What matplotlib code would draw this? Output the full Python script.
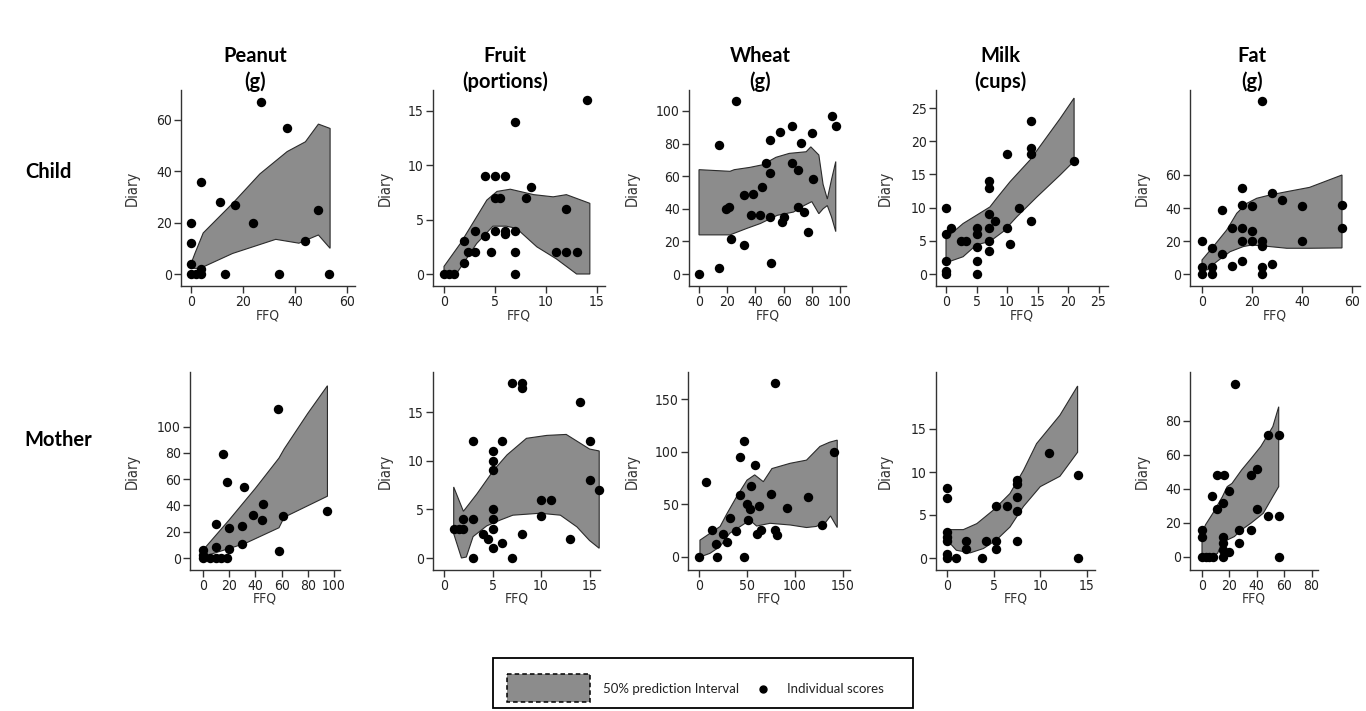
import matplotlib
matplotlib.use("Agg")
import matplotlib.pyplot as plt
from matplotlib import font_manager
from matplotlib.font_manager import FontProperties
from matplotlib.patches import Rectangle

W, H = 1366, 711

foods = ["Peanut", "Fruit", "Wheat", "Milk", "Fat"]
units = ["(g)", "(portions)", "(g)", "(cups)", "(g)"]
groups = ["Child", "Mother"]

# ---- child row: points (FFQ, Diary) and 50% prediction band (upper / lower edges)
child_peanut_pts = [(27, 67), (37, 57), (4, 36), (11, 28), (17, 27), (24, 20), (0, 20), (0, 12),
                    (0, 4), (0, 0), (2, 0), (4, 0), (4, 2), (13, 0), (34, 0), (44, 13), (49, 25), (53, 0)]
child_peanut_hi = [(0, 4), (1.5, 8), (4.7, 16), (16, 27.5), (26.5, 39), (37, 47.7), (44, 51.5),
                   (49, 58.4), (53.5, 56.7)]
child_peanut_lo = [(0, 2.2), (3.5, 2.2), (16, 8), (32.6, 13.5), (41.5, 12), (49, 15.2), (53.5, 10)]

child_fruit_pts = [(14, 16), (7, 14), (4, 9), (5, 9), (6, 9), (5, 7), (5.5, 7), (8, 7), (8.5, 8),
                   (12, 6), (3, 4), (2, 3), (2.4, 2), (3, 2), (2, 1), (4, 3.5), (4.6, 2), (5, 4),
                   (6, 4), (6, 3.7), (7, 4), (7, 2), (7, 0), (0, 0), (0.5, 0), (1, 0), (11, 2),
                   (12, 2), (13, 2)]
child_fruit_hi = [(0, 0.7), (1.6, 2.8), (4.2, 6.8), (5.2, 7.6), (6.5, 7.8), (8.8, 7.3), (10.7, 7.1),
                  (12, 7.3), (14.3, 6.5)]
child_fruit_lo = [(0, 0), (1.2, 0), (3.2, 2.8), (4.8, 4.4), (6.1, 4.4), (7.1, 4.2), (9.1, 2.5),
                  (11, 1.4), (13, 0), (14.3, 0)]

child_wheat_pts = [(0, 0), (14, 3.5), (14, 79), (26, 106), (19, 40), (21, 41), (23, 21.5), (32, 48.5),
                   (38.5, 49), (32, 18), (37, 36), (43, 36), (44.5, 53.5), (47.5, 68), (50.5, 62),
                   (50.5, 82), (50.5, 35), (51, 7), (57.5, 87), (60, 35), (59, 32), (66, 91), (66, 68),
                   (70.5, 64), (72, 80.5), (70.5, 41), (74.5, 38), (80, 86.5), (80.5, 58.5),
                   (77.5, 25.5), (94, 97), (97, 91)]
child_wheat_hi = [(0, 64), (22, 63), (25, 64), (36, 65.4), (45, 67), (54.6, 71.6), (64, 74), (76, 75),
                  (79.3, 78), (85, 73), (88, 55), (91, 46), (94, 58), (97, 69)]
child_wheat_lo = [(0, 24), (22, 24), (34, 28), (43.6, 31), (55.5, 36), (67, 38), (74.5, 42),
                  (80, 44.4), (85, 37), (88, 40), (91, 42), (94, 35), (97, 26)]

child_milk_pts = [(0, 10), (0, 6), (0.9, 7), (0, 2), (0, 0.5), (0, 0), (2.5, 5), (3.3, 5), (5, 7),
                  (5, 6), (5, 4), (5, 2), (5, 0), (7, 14), (7, 13), (7, 9), (7, 7), (7, 5), (7, 3.5),
                  (8, 8), (10, 18), (10, 7), (10.5, 4.5), (12, 10), (14, 23), (14, 19), (14, 18),
                  (14, 8), (21, 17)]
child_milk_hi = [(0, 5.4), (2.8, 7.6), (7.2, 10.1), (8.3, 11.4), (10.5, 13.9), (13.8, 17.2),
                 (18.7, 23.4), (21, 26.5)]
child_milk_lo = [(0, 1.7), (2.8, 2.6), (5, 4.4), (7.2, 4.9), (9.4, 6.4), (11.6, 8.6), (14.9, 11.6),
                 (18.7, 14.9), (21, 17)]

child_fat_pts = [(24, 105), (0, 20), (0, 4), (0, 0), (4, 16), (4, 4), (4, 0), (8, 39), (8, 12),
                 (12, 28), (12, 5), (16, 52), (16, 42), (16, 28), (16, 20), (16, 8), (20, 41), (20, 26),
                 (20, 20), (24, 20), (24, 17), (24, 4), (24, 0), (28, 6), (28, 49), (32, 45), (40, 41),
                 (40, 20), (56, 42), (56, 28)]
child_fat_hi = [(0, 8.5), (4.5, 16.6), (9.9, 26.7), (13.9, 36.8), (17.9, 42.8), (21.9, 45.9),
                (27.2, 47.9), (33.9, 49.9), (43, 52.5), (56, 60)]
child_fat_lo = [(0, 3), (1.9, 2.4), (5.9, 7.5), (11.2, 13.5), (16.5, 16.6), (19.9, 17.6),
                (27.2, 16.6), (33.9, 15.6), (43, 15.6), (56, 15.8)]

# ---- mother row
mother_peanut_pts = [(57, 113), (15, 79), (18, 58), (31, 54), (10, 26), (20, 23), (30, 24), (38, 33),
                     (46, 41), (45, 29), (61, 32), (58, 5), (30, 11), (10, 8), (20, 7), (0, 6), (0, 2),
                     (0, 0), (5, 0), (10, 0), (14, 0), (18, 0), (95, 36)]
mother_peanut_hi = [(0, 6), (20, 29), (40, 53), (58, 76), (62, 83), (80, 110), (95, 131)]
mother_peanut_lo = [(0, 1), (32, 11), (58, 23), (62, 31), (95, 47)]

mother_fruit_pts = [(7, 18), (8, 18), (8, 17.5), (14, 16), (3, 12), (6, 12), (15, 12), (5, 11),
                    (5, 10), (5, 9), (15, 8), (10, 6), (11, 6), (10, 4.3), (5, 5), (5, 4), (5, 3),
                    (1, 3), (1.5, 3), (2, 3), (2, 4), (3, 4), (4, 2.5), (4.5, 2), (5, 1), (6, 1.5),
                    (8, 2.5), (13, 2), (3, 0), (7, 0), (16, 7)]
mother_fruit_hi = [(1, 7.3), (2, 4.8), (3.4, 6.6), (5.1, 9), (6.5, 10.6), (8.5, 12.3), (10.6, 12.6),
                   (12.6, 12.7), (15, 11.2), (16, 11)]
mother_fruit_lo = [(1, 2.5), (1.8, 0), (2.3, 0.1), (3, 2.2), (4.4, 3.3), (5.8, 3.9), (7.1, 4.4),
                   (9.9, 4.6), (12, 4.4), (13.7, 3.2), (15, 1.8), (16, 1)]

mother_wheat_pts = [(79, 165), (47, 110), (43, 95), (58, 87), (7, 71), (54, 67), (43, 59), (75, 60),
                    (50, 50), (53, 46), (62, 48), (92, 47), (114, 57), (32, 37), (51, 35), (39, 25),
                    (60, 22), (65, 26), (79, 26), (81, 21), (14, 26), (25, 22), (29, 14), (18, 12),
                    (0, 0), (19, 0), (47, 0), (128, 30), (141, 100)]
mother_wheat_hi = [(1, 16), (11.5, 22.5), (22, 29), (29, 41), (39, 57), (50, 73), (58, 78), (67, 71.5),
                   (76, 84), (95, 89), (112, 92), (126, 105), (136, 109), (144, 111)]
mother_wheat_lo = [(1, 0), (11.5, 3.5), (22, 10), (32, 22.5), (43, 29), (53, 35), (60, 29.4), (74, 32),
                   (95, 30.4), (112, 28), (122, 29), (132, 33), (137, 39), (144, 28)]

mother_milk_pts = [(0, 8.1), (0, 7), (0, 3), (0, 2.5), (0, 2), (0, 0.5), (0, 0), (1, 0), (2, 2),
                   (2, 1), (3.7, 0), (4.2, 2), (5.3, 2), (5.3, 1), (5.2, 6.1), (6.4, 6.1), (7.5, 9.1),
                   (7.5, 8.6), (7.5, 7.1), (7.5, 5.5), (7.5, 2), (10.9, 12.2), (14, 9.6), (14, 0)]
mother_milk_hi = [(0, 3.3), (1.75, 3.3), (3.2, 4), (5, 5.6), (6.75, 7.5), (8.2, 10.2), (9.6, 13.3),
                  (12.1, 16.6), (14, 20)]
mother_milk_lo = [(0, 2.1), (1, 0.9), (2.5, 0.6), (3.9, 1.1), (5.3, 2.1), (6.75, 3.6), (8.2, 6),
                  (10, 8.3), (12.1, 9.5), (14, 12.3)]

mother_fat_pts = [(24, 102), (11, 48), (16, 48), (7, 36), (11, 28), (15, 32), (20, 39), (36, 48),
                  (40, 52), (48, 72), (56, 72), (40, 28), (48, 24), (56, 24), (0, 16), (0, 12),
                  (27, 16), (36, 16), (27, 8), (15, 12), (15, 8), (15, 4), (20, 3), (0, 0), (2.6, 0),
                  (5, 0), (8, 0), (15, 0), (56, 0)]
mother_fat_hi = [(0, 14), (2.6, 19), (7.9, 25.7), (14.9, 35.5), (18.4, 41.4), (21.9, 43.3),
                 (28.9, 51.2), (35.9, 58), (42.9, 65), (51.7, 76.7), (56, 88.4)]
mother_fat_lo = [(0, 0), (6, 0), (11.4, 2.2), (14.9, 9), (18.4, 10), (23.6, 12), (28.9, 16),
                 (35.9, 20), (44.7, 25.7), (51.7, 35.5), (56, 41.4)]

# ---- tick values
child_xticks = [[0, 20, 40, 60], [0, 5, 10, 15], [0, 20, 40, 60, 80, 100], [0, 5, 10, 15, 20, 25], [0, 20, 40, 60]]
child_yticks = [[0, 20, 40, 60], [0, 5, 10, 15], [0, 20, 40, 60, 80, 100], [0, 5, 10, 15, 20, 25], [0, 20, 40, 60]]
mother_xticks = [[0, 20, 40, 60, 80, 100], [0, 5, 10, 15], [0, 50, 100, 150], [0, 5, 10, 15], [0, 20, 40, 60, 80]]
mother_yticks = [[0, 20, 40, 60, 80, 100], [0, 5, 10, 15], [0, 50, 100, 150], [0, 5, 10, 15], [0, 20, 40, 60, 80]]

child_data = [(child_peanut_pts, child_peanut_hi, child_peanut_lo),
              (child_fruit_pts, child_fruit_hi, child_fruit_lo),
              (child_wheat_pts, child_wheat_hi, child_wheat_lo),
              (child_milk_pts, child_milk_hi, child_milk_lo),
              (child_fat_pts, child_fat_hi, child_fat_lo)]
mother_data = [(mother_peanut_pts, mother_peanut_hi, mother_peanut_lo),
               (mother_fruit_pts, mother_fruit_hi, mother_fruit_lo),
               (mother_wheat_pts, mother_wheat_hi, mother_wheat_lo),
               (mother_milk_pts, mother_milk_hi, mother_milk_lo),
               (mother_fat_pts, mother_fat_hi, mother_fat_lo)]

# ---- layout in pixels: left spine, right end, pixel of x=0, px per unit, pixel of y=0, px per unit
child_geom = [(181, 355, 191, 2.6, 274, 2.567),
              (433, 605, 444, 10.2, 274, 10.87),
              (689, 846, 699, 1.41, 274, 1.63),
              (936, 1108, 946, 6.1, 274, 6.64),
              (1190, 1360, 1202, 2.5, 274, 1.65)]
mother_geom = [(190, 340, 203, 1.31, 558, 1.315),
               (433, 600, 444, 9.7, 558, 9.73),
               (688, 850, 699, 0.96, 557, 1.053),
               (936, 1095, 947, 9.33, 558, 8.6),
               (1190, 1318, 1202, 1.37, 557, 1.7)]
row_tb = [(90, 286), (372, 570)]
diary_x = [132, 385, 632, 885, 1142]
ffq_y = [315, 599]
title_x = [255, 505, 760, 1000, 1252]


def has_font(name):
    try:
        font_manager.findfont(FontProperties(family=name), fallback_to_default=False)
        return True
    except Exception:
        return False


tick_font = "Liberation Sans Narrow" if has_font("Liberation Sans Narrow") else "DejaVu Sans"
head_font = "Lato" if has_font("Lato") else "DejaVu Sans"
plt.rcParams['font.family'] = [tick_font, 'DejaVu Sans']
if tick_font == "DejaVu Sans":
    plt.rcParams['font.stretch'] = 'condensed'

fig = plt.figure(figsize=(W / 100, H / 100), dpi=100)
fig.patch.set_facecolor('white')

for r, (geoms, datas, xt, yt) in enumerate([(child_geom, child_data, child_xticks, child_yticks),
                                             (mother_geom, mother_data, mother_xticks, mother_yticks)]):
    top, bot = row_tb[r]
    for c in range(5):
        xl, xr, x0, sx, y0, sy = geoms[c]
        pts, hi, lo = datas[c]
        ax = fig.add_axes([xl / W, 1 - bot / H, (xr - xl) / W, (bot - top) / H])
        ax.set_xlim((xl - x0) / sx, (xr - x0) / sx)
        ax.set_ylim((y0 - bot) / sy, (y0 - top) / sy)

        bx = [p[0] for p in hi] + [p[0] for p in lo[::-1]]
        by = [p[1] for p in hi] + [p[1] for p in lo[::-1]]
        ax.fill(bx, by, facecolor='#8c8c8c', edgecolor='#2b2b2b', linewidth=0.8, zorder=1)
        ax.scatter([p[0] for p in pts], [p[1] for p in pts], s=46, color='black',
                   linewidths=0, zorder=3, clip_on=False)

        for s in ['top', 'right']:
            ax.spines[s].set_visible(False)
        for s in ['left', 'bottom']:
            ax.spines[s].set_color('#333333')
            ax.spines[s].set_linewidth(1.0)
        ax.set_xticks(xt[c])
        ax.set_yticks(yt[c])
        ax.tick_params(direction='out', length=5, width=1, color='#333333',
                       labelsize=10, labelcolor='#222222', pad=1.5)
        ax.set_facecolor('none')

        ax.set_ylabel('Diary', fontsize=10.5, color='#333333')
        ax.yaxis.set_label_coords((diary_x[c] - xl) / (xr - xl), 0.5)
        ax.set_xlabel('FFQ', fontsize=10, color='#333333')
        ax.xaxis.set_label_coords(0.5, (bot - ffq_y[r]) / (bot - top))
        ax.xaxis.label.set_va('center')
        ax.yaxis.label.set_va('center')

# overlay for headings and legend, in pixel coordinates
ov = fig.add_axes([0, 0, 1, 1], zorder=-1)
ov.set_xlim(0, W)
ov.set_ylim(H, 0)
ov.axis('off')

for c in range(5):
    ov.text(title_x[c], 56, foods[c], ha='center', va='center', fontsize=14.5,
            fontweight='bold', family=head_font, color='black')
    ov.text(title_x[c], 82, units[c], ha='center', va='center', fontsize=14.5,
            fontweight='bold', family=head_font, color='black')
ov.text(48, 172, groups[0], ha='center', va='center', fontsize=14.5, fontweight='bold',
        family=head_font)
ov.text(58, 440, groups[1], ha='center', va='center', fontsize=14.5, fontweight='bold',
        family=head_font)

ov.add_patch(Rectangle((493, 658), 420, 50, facecolor='white', edgecolor='black', linewidth=1.3))
ov.add_patch(Rectangle((507, 674), 83, 28, facecolor='#8c8c8c', edgecolor='black',
                       linewidth=1.1, linestyle=(0, (3, 2))))
ov.text(603, 689, '50% prediction Interval', ha='left', va='center', fontsize=9.5,
        family=head_font, color='#222222')
ov.plot([763], [689], 'o', color='black', markersize=5)
ov.text(787, 689, 'Individual scores', ha='left', va='center', fontsize=9.5,
        family=head_font, color='#222222')

fig.savefig('out.png', dpi=100)
